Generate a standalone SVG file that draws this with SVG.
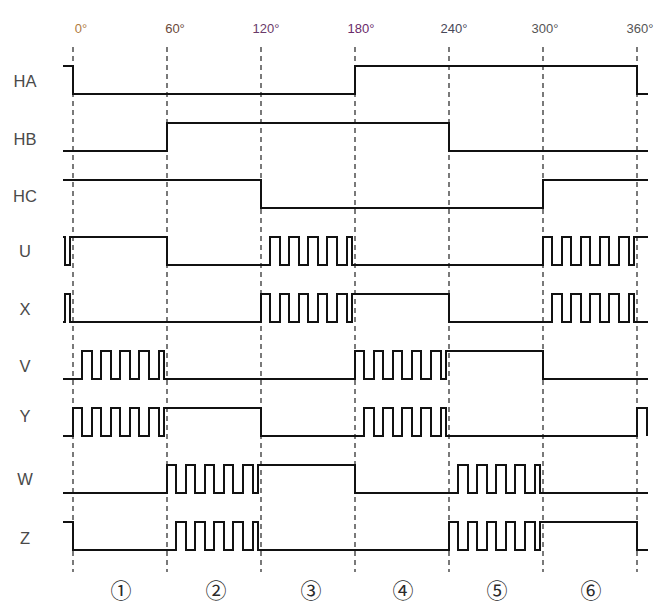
<svg xmlns="http://www.w3.org/2000/svg" width="663" height="603" viewBox="0 0 663 603">
<style>
.sig{fill:none;stroke:#111;stroke-width:2;stroke-linejoin:miter}
.grid{fill:none;stroke:#222;stroke-width:1.2;stroke-dasharray:5,4}
.lbl{font-family:"Liberation Sans",Arial,sans-serif;font-size:16.5px;fill:#4a4a4a;text-anchor:middle}
.deg{font-family:"Liberation Sans",Arial,sans-serif;font-size:13px;fill:#555;text-anchor:middle}
.num{font-family:"Noto Sans CJK SC","DejaVu Sans",sans-serif;font-size:21px;fill:#2a2a2a;text-anchor:middle}
</style>
<rect width="663" height="603" fill="#fff"/>
<g id="grid">
<line class="grid" x1="73" y1="47" x2="73" y2="572"/>
<line class="grid" x1="167" y1="47" x2="167" y2="572"/>
<line class="grid" x1="261" y1="47" x2="261" y2="572"/>
<line class="grid" x1="355" y1="47" x2="355" y2="572"/>
<line class="grid" x1="449" y1="47" x2="449" y2="572"/>
<line class="grid" x1="543" y1="47" x2="543" y2="572"/>
<line class="grid" x1="637" y1="47" x2="637" y2="572"/>
</g>
<g id="angles">
<text class="deg" x="81" y="33" style="fill:#b07a40">0°</text>
<text class="deg" x="175" y="33" style="fill:#6b4a3a">60°</text>
<text class="deg" x="266" y="33" style="fill:#6a3a6a">120°</text>
<text class="deg" x="361" y="33" style="fill:#6a2a6a">180°</text>
<text class="deg" x="454" y="33" style="fill:#484858">240°</text>
<text class="deg" x="545" y="33">300°</text>
<text class="deg" x="640" y="33">360°</text>
</g>
<g id="HA"><text class="lbl" x="25" y="87">HA</text>
<path class="sig" d="M63 66 H73 V94 H355 V66 H637 V94 H648"/></g>
<g id="HB"><text class="lbl" x="25" y="145">HB</text>
<path class="sig" d="M63 151 H167 V123 H449 V151 H648"/></g>
<g id="HC"><text class="lbl" x="25" y="202">HC</text>
<path class="sig" d="M63 180 H261 V208 H543 V180 H648"/></g>
<g id="U"><text class="lbl" x="25" y="257">U</text>
<path class="sig" d="M63 237 H65 V265 H70 V237 H167 V265 H270 V237 H280 V265 H289 V237 H299 V265 H308 V237 H318 V265 H327 V237 H337 V265 H347 V237 H352 V265 H543 V237 H552 V265 H562 V237 H571 V265 H581 V237 H590 V265 H600 V237 H609 V265 H619 V237 H629 V265 H634 V237 H648"/></g>
<g id="X"><text class="lbl" x="25" y="315">X</text>
<path class="sig" d="M63 322 H65 V294 H70 V322 H261 V294 H270 V322 H280 V294 H289 V322 H299 V294 H308 V322 H318 V294 H327 V322 H337 V294 H347 V322 H352 V294 H449 V322 H552 V294 H562 V322 H571 V294 H581 V322 H590 V294 H600 V322 H609 V294 H619 V322 H629 V294 H634 V322 H648"/></g>
<g id="V"><text class="lbl" x="25" y="372">V</text>
<path class="sig" d="M63 379 H82 V351 H92 V379 H101 V351 H111 V379 H120 V351 H130 V379 H139 V351 H149 V379 H159 V351 H164 V379 H355 V351 H364 V379 H374 V351 H383 V379 H393 V351 H402 V379 H412 V351 H421 V379 H431 V351 H441 V379 H446 V351 H543 V379 H648"/></g>
<g id="Y"><text class="lbl" x="25" y="422">Y</text>
<path class="sig" d="M63 436 H73 V408 H82 V436 H92 V408 H101 V436 H111 V408 H120 V436 H130 V408 H139 V436 H149 V408 H159 V436 H164 V408 H261 V436 H364 V408 H374 V436 H383 V408 H393 V436 H402 V408 H412 V436 H421 V408 H431 V436 H441 V408 H446 V436 H637 V408 H647 V436"/></g>
<g id="W"><text class="lbl" x="25" y="485">W</text>
<path class="sig" d="M63 493 H167 V465 H176 V493 H186 V465 H195 V493 H205 V465 H214 V493 H224 V465 H233 V493 H243 V465 H253 V493 H258 V465 H355 V493 H458 V465 H468 V493 H477 V465 H487 V493 H496 V465 H506 V493 H515 V465 H525 V493 H535 V465 H540 V493 H648"/></g>
<g id="Z"><text class="lbl" x="25" y="544">Z</text>
<path class="sig" d="M63 522 H73 V550 H176 V522 H186 V550 H195 V522 H205 V550 H214 V522 H224 V550 H233 V522 H243 V550 H253 V522 H258 V550 H449 V522 H458 V550 H468 V522 H477 V550 H487 V522 H496 V550 H506 V522 H515 V550 H525 V522 H535 V550 H540 V522 H637 V550 H648"/></g>
<g id="sectors">
<text class="num" x="121" y="598">①</text>
<text class="num" x="216" y="598">②</text>
<text class="num" x="311" y="598">③</text>
<text class="num" x="403" y="598">④</text>
<text class="num" x="497" y="598">⑤</text>
<text class="num" x="591" y="598">⑥</text>
</g>
</svg>
